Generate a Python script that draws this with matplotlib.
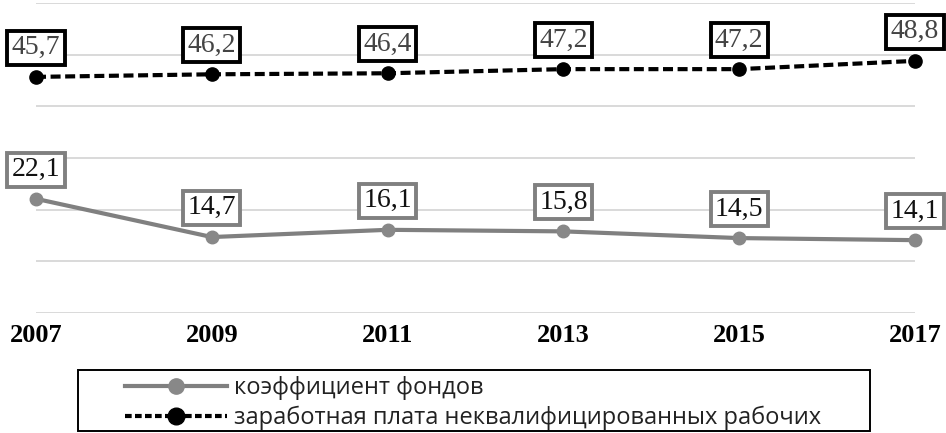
import matplotlib
matplotlib.use("Agg")
import matplotlib.pyplot as plt
from matplotlib.lines import Line2D
from matplotlib.patches import Rectangle

years = [2007, 2009, 2011, 2013, 2015, 2017]
fund_ratio = [22.1, 14.7, 16.1, 15.8, 14.5, 14.1]
unskilled_wage = [45.7, 46.2, 46.4, 47.2, 47.2, 48.8]
series_names = ["коэффициент фондов",
                "заработная плата неквалифицированных рабочих"]
ylim = (0, 60)
ystep = 10

W, H = 946, 433
fig = plt.figure(figsize=(W / 100, H / 100), dpi=100)
ax = fig.add_axes([36 / W, 1 - 313 / H, 879 / W, 310 / H])

gray = "#808080"
ax.set_xlim(years[0], years[-1])
ax.set_ylim(*ylim)
for y in range(ylim[0], ylim[1] + 1, ystep):
    ax.axhline(y, color="#d9d9d9", lw=1.4, zorder=0)

ax.plot(years, fund_ratio, color=gray, lw=3, marker="o", ms=9,
        mfc="#888888", mec="#888888", clip_on=False, zorder=3)
ax.plot(years, unskilled_wage, color="black", lw=3, ls=(0, (2.4, 1.1)),
        marker="o", ms=9.5, mfc="black", mec="black", clip_on=False, zorder=3)

def fmt(v):
    return f"{v:.1f}".replace(".", ",")

for x, v in zip(years, fund_ratio):
    ax.annotate(fmt(v), (x, v), xytext=(0, 21), textcoords="offset points",
                ha="center", va="center", fontsize=20,
                family="Liberation Serif", color="#111111", zorder=5,
                bbox=dict(boxstyle="square,pad=0.16", fc="white",
                          ec=gray, lw=2.8))
for x, v in zip(years, unskilled_wage):
    ax.annotate(fmt(v), (x, v), xytext=(0, 21), textcoords="offset points",
                ha="center", va="center", fontsize=20,
                family="Liberation Serif", color="#444444", zorder=5,
                bbox=dict(boxstyle="square,pad=0.16", fc="white",
                          ec="black", lw=2.8))

ax.set_xticks(years)
ax.set_xticklabels([str(y) for y in years], fontsize=19,
                   family="Liberation Serif", fontweight="bold")
ax.tick_params(axis="x", length=0, pad=8)
ax.set_yticks([])
for s in ax.spines.values():
    s.set_visible(False)

handles = [
    Line2D([], [], color=gray, lw=3, marker="o", ms=11,
           mfc="#888888", mec="#888888"),
    Line2D([], [], color="black", lw=3, ls=(0, (1.6, 0.8)), marker="o",
           ms=12, mfc="black", mec="black"),
]
leg = fig.legend(handles, series_names, loc="upper left",
                 bbox_to_anchor=(125 / W, 1 - 376 / H), frameon=False,
                 prop={"family": "Open Sans", "size": 17},
                 handlelength=4.3, handletextpad=0.3, labelspacing=0.24,
                 borderpad=0, borderaxespad=0, labelcolor="#222222")
fig.patches.append(Rectangle((78 / W, 1 - 431 / H), 792 / W, 61 / H,
                             transform=fig.transFigure, fill=False,
                             ec="black", lw=1.4))

fig.savefig("out.png", dpi=100)
